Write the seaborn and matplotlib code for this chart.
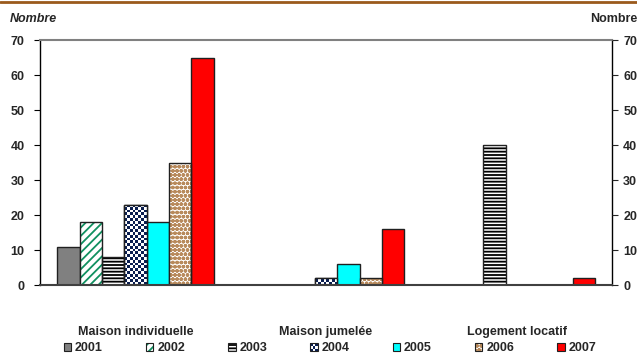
import matplotlib
matplotlib.use("Agg")
import matplotlib.pyplot as plt
import matplotlib.patches as mpatches
from matplotlib.colors import ListedColormap
import numpy as np
import seaborn as sns
import pandas as pd

categories = ["Maison individuelle", "Maison jumelée", "Logement locatif"]
years = ["2001", "2002", "2003", "2004", "2005", "2006", "2007"]
v2001 = [11, 0, 0]
v2002 = [18, 0, 0]
v2003 = [8, 0, 40]
v2004 = [23, 2, 0]
v2005 = [18, 6, 0]
v2006 = [35, 2, 0]
v2007 = [65, 16, 2]
yticks = [0, 10, 20, 30, 40, 50, 60, 70]

series = [v2001, v2002, v2003, v2004, v2005, v2006, v2007]
rows = []
for y, vals in zip(years, series):
    for c, v in zip(categories, vals):
        rows.append({"Type": c, "Année": y, "Nombre": v})
df = pd.DataFrame(rows)

NAVY = "#0a1e50"
OUTLINE = "#202020"
# (face, hatch, hatch colour) per year; 2004 gets a checkerboard fill
styles = {
    "2001": ("#808080", None, None),
    "2002": ("white", "////", "#109060"),
    "2003": ("white", "-----", "black"),
    "2004": ("white", "checker", NAVY),
    "2005": ("#00FFFF", None, None),
    "2006": ("white", "oooo", "#b88a5c"),
    "2007": ("#FF0000", None, None),
}

FS = 9
sns.set_style("white")
plt.rcParams["font.family"] = ["Liberation Sans", "DejaVu Sans"]
plt.rcParams["font.weight"] = "bold"
plt.rcParams["hatch.linewidth"] = 1.3

fig = plt.figure(figsize=(6.37, 3.55), dpi=100)
ax = fig.add_axes([0.0628, 0.197, 0.898, 0.69])

sns.barplot(data=df, x="Type", y="Nombre", hue="Année", hue_order=years,
            order=categories, ax=ax, width=0.82, legend=False,
            palette=[styles[y][0] for y in years], saturation=1)

ax.set_ylim(0, 70)
ax.set_xlim(-0.5, 2.5)


def add_outline(bar):
    ax.add_patch(mpatches.Rectangle(bar.get_xy(), bar.get_width(), bar.get_height(),
                                    fill=False, edgecolor=OUTLINE, linewidth=1.0,
                                    zorder=bar.get_zorder() + 0.1))


checker_cmap = ListedColormap(["white", NAVY])
for year, cont in zip(years, ax.containers):
    face, hatch, hcol = styles[year]
    for bar in cont:
        bar.set_facecolor(face)
        if hatch == "checker":
            bar.set_edgecolor(OUTLINE)
            bar.set_linewidth(1.0)
            if bar.get_height() > 0:
                x0, y0 = bar.get_xy()
                x1, y1 = x0 + bar.get_width(), y0 + bar.get_height()
                p0 = ax.transData.transform((x0, y0))
                p1 = ax.transData.transform((x1, y1))
                nx = max(1, int(round(abs(p1[0] - p0[0]) / 2.8)))
                ny = max(1, int(round(abs(p1[1] - p0[1]) / 2.8)))
                grid = (np.add.outer(np.arange(ny), np.arange(nx)) % 2).astype(float)
                im = ax.imshow(grid, extent=(x0, x1, y0, y1), cmap=checker_cmap,
                               interpolation="nearest", aspect="auto",
                               zorder=bar.get_zorder() + 0.05, origin="lower")
                im.set_clip_path(bar)
                add_outline(bar)
        elif hatch:
            bar.set_hatch(hatch)
            bar.set_edgecolor(hcol)
            bar.set_linewidth(0)
            add_outline(bar)
        else:
            bar.set_edgecolor(OUTLINE)
            bar.set_linewidth(1.0)

ax.set_ylim(0, 70)
ax.set_xlim(-0.5, 2.5)
ax.set_yticks(yticks)
ax.set_yticklabels([str(t) for t in yticks], fontsize=FS, fontweight="bold")
ax.set_xticks([0.5, 1.5])
ax.set_xticklabels([])
ax.tick_params(axis="x", direction="out", length=3, width=0.8, color="#404040", pad=2)
ax.tick_params(axis="y", direction="out", length=4, width=0.8, color="black", pad=7, left=True)
ax.set_xlabel("")
ax.set_ylabel("")
for i, c in enumerate(categories):
    ax.text(i, -14.4, c, ha="center", va="baseline", fontsize=FS, fontweight="bold")

for s in ["left", "right"]:
    ax.spines[s].set_color("black")
    ax.spines[s].set_linewidth(1.0)
ax.spines["top"].set_color("#808080")
ax.spines["top"].set_linewidth(1.5)
ax.spines["bottom"].set_color("#404040")
ax.spines["bottom"].set_linewidth(1.5)

ax2 = ax.twinx()
ax2.set_ylim(0, 70)
ax2.set_yticks(yticks)
ax2.set_yticklabels([str(t) for t in yticks], fontsize=FS, fontweight="bold")
ax2.tick_params(axis="y", direction="out", length=4, width=0.8, pad=4, right=True)
for s in ax2.spines.values():
    s.set_visible(False)

fig.text(0.016, 0.946, "Nombre", fontsize=FS, fontweight="bold", style="italic",
         ha="left", va="center")
fig.text(0.926, 0.946, "Nombre", fontsize=FS, fontweight="bold", ha="left", va="center")

# brown rule along the top
fig.add_artist(plt.Line2D([0, 1], [0.995, 0.995], color="#9a5a1c", linewidth=2,
                          transform=fig.transFigure))


class SwatchHandler:
    """Small outlined square carrying the bar's fill (plain, hatched or checkerboard)."""

    def __init__(self, face, hatch, hcol):
        self.face, self.hatch, self.hcol = face, hatch, hcol

    def legend_artist(self, legend, orig_handle, fontsize, handlebox):
        x0, y0 = handlebox.xdescent, handlebox.ydescent
        w, h = handlebox.width, handlebox.height
        tr = handlebox.get_transform()
        if self.hatch == "checker":
            handlebox.add_artist(mpatches.Rectangle((x0, y0), w, h, facecolor="white",
                                                    edgecolor="none", transform=tr))
            n = 3
            for i in range(n):
                for j in range(n):
                    if (i + j) % 2 == 0:
                        handlebox.add_artist(mpatches.Rectangle(
                            (x0 + i * w / n, y0 + j * h / n), w / n, h / n,
                            facecolor=NAVY, edgecolor="none", transform=tr))
        elif self.hatch:
            handlebox.add_artist(mpatches.Rectangle((x0, y0), w, h, facecolor=self.face,
                                                    hatch=self.hatch, edgecolor=self.hcol,
                                                    linewidth=0, transform=tr))
        else:
            handlebox.add_artist(mpatches.Rectangle((x0, y0), w, h, facecolor=self.face,
                                                    edgecolor="none", transform=tr))
        ol = mpatches.Rectangle((x0, y0), w, h, fill=False, edgecolor=OUTLINE,
                                linewidth=0.8, transform=tr)
        handlebox.add_artist(ol)
        return ol


handles = []
handler_map = {}
for y in years:
    h = mpatches.Patch(facecolor="white")
    handler_map[h] = SwatchHandler(*styles[y])
    handles.append(h)
fig.legend(handles, years, handler_map=handler_map, loc="center",
           bbox_to_anchor=(0.518, 0.02), ncol=7, frameon=False,
           prop={"weight": "bold", "size": FS},
           handlelength=0.6, handleheight=0.6, handletextpad=0.3, columnspacing=3.45)

fig.savefig("out.png", dpi=100)
